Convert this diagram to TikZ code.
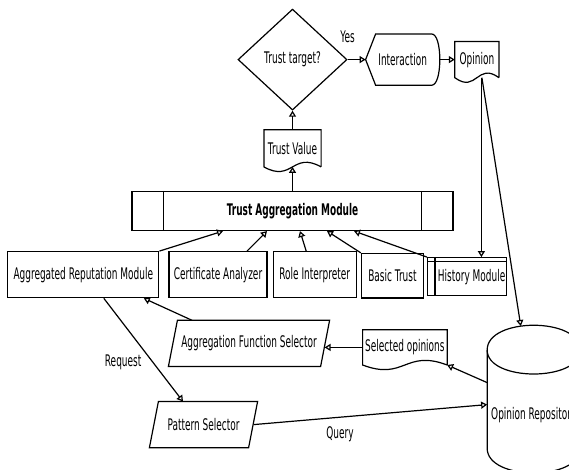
\documentclass[tikz,border=0pt]{standalone}
\usepackage{fontspec}
\setmainfont{DejaVu Sans}[FakeStretch=0.56]
\usetikzlibrary{positioning,calc,shapes.geometric,arrows.meta}

% outline of a document (wavy bottom) around a plain node
\newcommand{\docshape}[1]{%
  \draw (#1.south east) -- (#1.north east) -- (#1.north west) -- (#1.south west)
    .. controls ($(#1.south)+(0pt,-16pt)$) and ($(#1.south)+(0pt,16pt)$) .. (#1.south east);}
% outline of a slanted box (data) around a plain node
\newcommand{\slantshape}[1]{%
  \draw ([xshift=9pt]#1.north west) -- (#1.north east) -- ([xshift=-9pt]#1.south east) -- (#1.south west) -- cycle;}
% outline of the stored data drum
\newcommand{\drumshape}[1]{%
  \draw (#1.south west) -- (#1.north west)
    .. controls ([yshift=33pt]#1.north west) and ([yshift=33pt]#1.north east) .. (#1.north east)
    -- (#1.south east)
    .. controls ([yshift=-33pt]#1.south east) and ([yshift=-33pt]#1.south west) .. (#1.south west);
  \draw (#1.north west) .. controls ([yshift=-32pt]#1.north west) and ([yshift=-32pt]#1.north east) .. (#1.north east);}

\begin{document}
\begin{tikzpicture}[x=1pt, y=-1pt,
            font=\fontsize{16pt}{19pt}\selectfont,
            line width=1.2pt,
            >={Triangle[open, length=6pt, width=7pt]},
            box/.style={rectangle, draw, minimum height=46pt, inner sep=2pt},
            plain/.style={rectangle, inner sep=2pt},
            decision/.style={diamond, draw, minimum width=109pt, minimum height=101pt, inner sep=0pt},
            lbl/.style={inner sep=1pt},
        ]
            \clip (0,0) rectangle (569,470);

            \node [box, minimum width=321pt, minimum height=39pt] (tam) at (292.5,211) {\bfseries Trust Aggregation Module};
            \node [plain, minimum width=56pt, minimum height=36pt] (tv) [above=24pt of tam] {Trust Value};
            \node [decision] (target) [above=19pt of tv] {Trust target?};
            \node [plain, minimum width=73pt, minimum height=50pt] (interaction) [right=18pt of target] {Interaction};
            \node [plain, minimum width=43pt, minimum height=35pt] (opinion) [right=15pt of interaction] {Opinion};

            \node [box, minimum width=151pt] (arm) [below left=20pt and -28pt of tam] {Aggregated Reputation Module};
            \node [box, minimum width=98pt] (ca) [right=9pt of arm] {Certificate Analyzer};
            \node [box, minimum width=83pt] (ri) [right=5pt of ca] {Role Interpreter};
            \node [box, minimum width=62pt, minimum height=44.5pt] (bt) [right=4pt of ri, yshift=-1pt] {Basic Trust};
            \node [box, minimum width=79pt, minimum height=38pt, inner xsep=0pt] (hm) [right=3pt of bt, yshift=-1pt] {\hspace{9pt}History Module};

            \node [plain, minimum width=160pt, minimum height=45pt] (afs) [below right=22pt and 9pt of arm] {Aggregation Function Selector};
            \node [plain, minimum width=81pt, minimum height=34pt] (selected) [right=33pt of afs, yshift=-4pt] {Selected opinions};
            \node [plain, minimum width=107pt, minimum height=45pt] (ps) [below=35pt of afs, xshift=-45.5pt] {Pattern Selector};
            \node [plain, minimum width=92pt, text height=69pt, text depth=28pt, inner sep=0pt] (orep) [below right=-15pt and 40pt of selected] {Opinion Repository};

            \docshape{tv}
            \docshape{opinion}
            \docshape{selected}
            \slantshape{afs}
            \slantshape{ps}
            \drumshape{orep}
            \draw ([xshift=10pt]interaction.north west) -- ([xshift=-8pt]interaction.north east)
                .. controls ([xshift=-3pt]interaction.north east) and ([yshift=14pt]interaction.east) .. (interaction.east)
                .. controls ([yshift=-14pt]interaction.east) and ([xshift=-3pt]interaction.south east) .. ([xshift=-8pt]interaction.south east)
                -- ([xshift=10pt]interaction.south west) -- (interaction.west) -- cycle;
            \draw ([xshift=32pt]tam.north west) -- ([xshift=32pt]tam.south west);
            \draw ([xshift=-32pt]tam.north east) -- ([xshift=-32pt]tam.south east);
            \draw ([yshift=-4pt]hm.north west) -- ([yshift=-4pt]hm.north east);
            \draw ([xshift=8pt]hm.north west) -- ([xshift=8pt]hm.south west);
            \coordinate (ortop) at ([xshift=-13pt,yshift=24pt]orep.north);

            \draw[->] (target) -- (interaction) node [lbl, pos=0, above=15pt] {Yes};
            \draw[->] (interaction) -- (opinion);
            \draw[->] (tv) -- (target);
            \draw[->] (tam) -- (tv);

            \draw[->] (arm.north east) -- ([xshift=-69.5pt]tam.south);
            \draw[->] ([xshift=29pt]ca.north) -- ([xshift=-25.5pt]tam.south);
            \draw[->] ([xshift=-8.5pt]ri.north) -- ([xshift=7.5pt]tam.south);
            \draw[->] (bt.north west) -- ([xshift=34.5pt]tam.south);
            \draw[->] (hm.north west) -- ([xshift=61.5pt]tam.south);

            \draw[->] ([xshift=4.5pt]opinion.south) -- ([xshift=4.5pt]opinion.south |- hm.north);
            \draw[->] ([xshift=5pt]opinion.south) -- (ortop);

            \draw[->] ([xshift=-57pt]afs.north) -- ([xshift=60.5pt]arm.south);
            \draw[->] ([xshift=20.5pt]arm.south) -- ([xshift=-20.5pt]ps.north) node [lbl, pos=0.62, left=10pt] {Request};
            \draw[->] (selected) -- ([xshift=-5pt]selected -| afs.east);
            \draw[->] ([yshift=16.5pt]orep.west) -- (selected.south east);
            \draw[->] ([xshift=-4pt]ps.east) -- ([yshift=-5.5pt]orep.west) node [lbl, pos=0.37, below=7.5pt] {Query};

        \end{tikzpicture}
\end{document}
